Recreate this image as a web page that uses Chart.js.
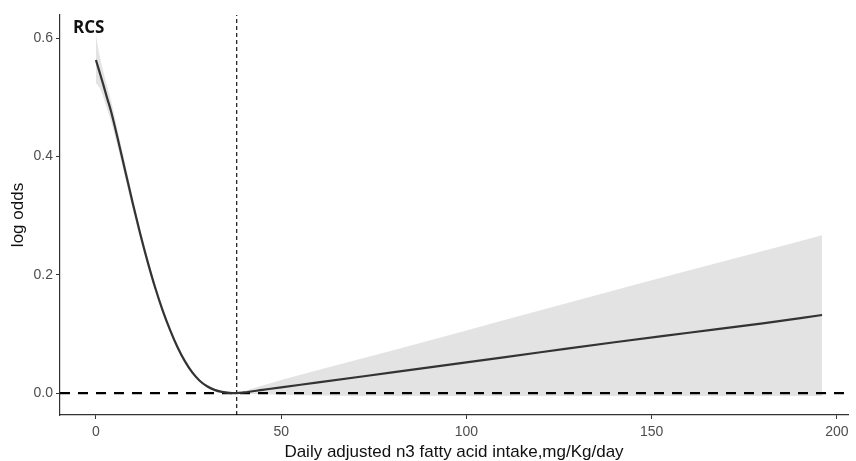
<!DOCTYPE html>
<html>
<head>
<meta charset="utf-8">
<script src="https://cdn.jsdelivr.net/npm/chart.js@4.4.1/dist/chart.umd.min.js"></script>
<style>
html,body{margin:0;padding:0;background:#fff;}
#wrap{width:856px;height:461px;position:relative;}
</style>
</head>
<body>
<div id="wrap"><canvas id="c" width="856" height="461"></canvas></div>
<script>
// ---- data ----
const intake = [0,1,2,3,4,6,8,10,12,14,16,18,20,22,24,26,28,30,32,34,36,38,40,45,50,60,80,100,120,140,160,180,196];
const logOdds = [0.563,0.542,0.521,0.499,0.478,0.427,0.373,0.319,0.268,0.221,0.178,0.140,0.107,0.078,0.054,0.035,0.021,0.0115,0.0055,0.002,0.0003,0,0.0012,0.0055,0.0098,0.018,0.035,0.052,0.069,0.086,0.102,0.118,0.132];
const upperCI = [0.605,0.570,0.543,0.519,0.496,0.441,0.385,0.329,0.276,0.228,0.184,0.145,0.111,0.082,0.057,0.038,0.023,0.0135,0.007,0.003,0.0007,0,0.0035,0.013,0.022,0.039,0.072,0.106,0.140,0.174,0.207,0.240,0.267];
const lowerCI = [0.524,0.516,0.500,0.480,0.461,0.413,0.361,0.309,0.260,0.214,0.172,0.135,0.103,0.074,0.051,0.032,0.019,0.0095,0.004,0.001,0,0,-0.001,-0.002,-0.003,-0.004,-0.005,-0.005,-0.005,-0.005,-0.005,-0.005,-0.005];
const refX = 38;          // vertical reference (knot) at minimum
const refY = 0;           // horizontal reference
const xTicks = [0,50,100,150,200];
const yTicks = [0,0.2,0.4,0.6];
const xRange = [-9.7, 203];
const yRange = [-0.037, 0.639];
const panelLabel = 'RCS';

const pts = (ys) => intake.map((x,i)=>({x:x,y:ys[i]}));

const labelPlugin = {
  id:'panelLabel',
  afterDraw(chart){
    const ctx = chart.ctx;
    ctx.save();
    ctx.font = 'bold 17px "Open Sans", "Liberation Sans", sans-serif';
    ctx.fillStyle = '#111';
    ctx.textBaseline = 'alphabetic';
    ctx.textAlign = 'left';
    ctx.fillText(panelLabel, 73, 33);
    ctx.restore();
  }
};

new Chart(document.getElementById('c'), {
  type:'line',
  data:{
    datasets:[
      {label:'lower', data:pts(lowerCI), borderWidth:0, pointRadius:0, fill:false, borderColor:'rgba(0,0,0,0)', cubicInterpolationMode:'monotone', order:5},
      {label:'upper', data:pts(upperCI), borderWidth:0, pointRadius:0, fill:0, backgroundColor:'#e3e3e3', borderColor:'rgba(0,0,0,0)', cubicInterpolationMode:'monotone', order:4},
      {label:'h0', data:[{x:xRange[0],y:refY},{x:xRange[1],y:refY}], borderColor:'#000', borderWidth:2.2, borderDash:[10,8], pointRadius:0, fill:false, order:3},
      {label:'v', data:[{x:refX,y:yRange[0]},{x:refX,y:yRange[1]}], borderColor:'#000', borderWidth:1.1, borderDash:[4,3], pointRadius:0, fill:false, order:2},
      {label:'fit', data:pts(logOdds), borderColor:'#333', borderWidth:2.2, pointRadius:0, fill:false, cubicInterpolationMode:'monotone', order:1}
    ]
  },
  options:{
    responsive:false,
    animation:false,
    layout:{padding:{left:0,top:15,right:8,bottom:0}},
    plugins:{legend:{display:false}, tooltip:{enabled:false}},
    scales:{
      x:{
        type:'linear', min:xRange[0], max:xRange[1],
        afterBuildTicks(s){ s.ticks = xTicks.map(v=>({value:v})); },
        afterFit(s){ s.height = 46; },
        ticks:{font:{family:'"Liberation Sans", Arial, sans-serif', size:14}, color:'#4d4d4d', padding:5, maxRotation:0, callback:(v)=>String(v)},
        grid:{display:true, drawOnChartArea:false, drawTicks:true, tickLength:4, color:'#333', lineWidth:1},
        border:{display:true, color:'#333', width:1.2},
        title:{display:true, text:'Daily adjusted n3 fatty acid intake,mg/Kg/day', color:'#111', font:{family:'"Liberation Sans", Arial, sans-serif', size:17, lineHeight:1}, padding:{top:0,bottom:0}}
      },
      y:{
        type:'linear', min:yRange[0], max:yRange[1],
        afterBuildTicks(s){ s.ticks = yTicks.map(v=>({value:v})); },
        afterFit(s){ s.width = 60; },
        ticks:{font:{family:'"Liberation Sans", Arial, sans-serif', size:14}, color:'#4d4d4d', padding:3, callback:(v)=>Number(v).toFixed(1)},
        grid:{display:true, drawOnChartArea:false, drawTicks:true, tickLength:4, color:'#333', lineWidth:1},
        border:{display:true, color:'#333', width:1.2},
        title:{display:true, text:'log odds', color:'#111', font:{family:'"Liberation Sans", Arial, sans-serif', size:17, lineHeight:1}, padding:{top:10,bottom:0}}
      }
    }
  },
  plugins:[labelPlugin]
});
</script>
</body>
</html>
